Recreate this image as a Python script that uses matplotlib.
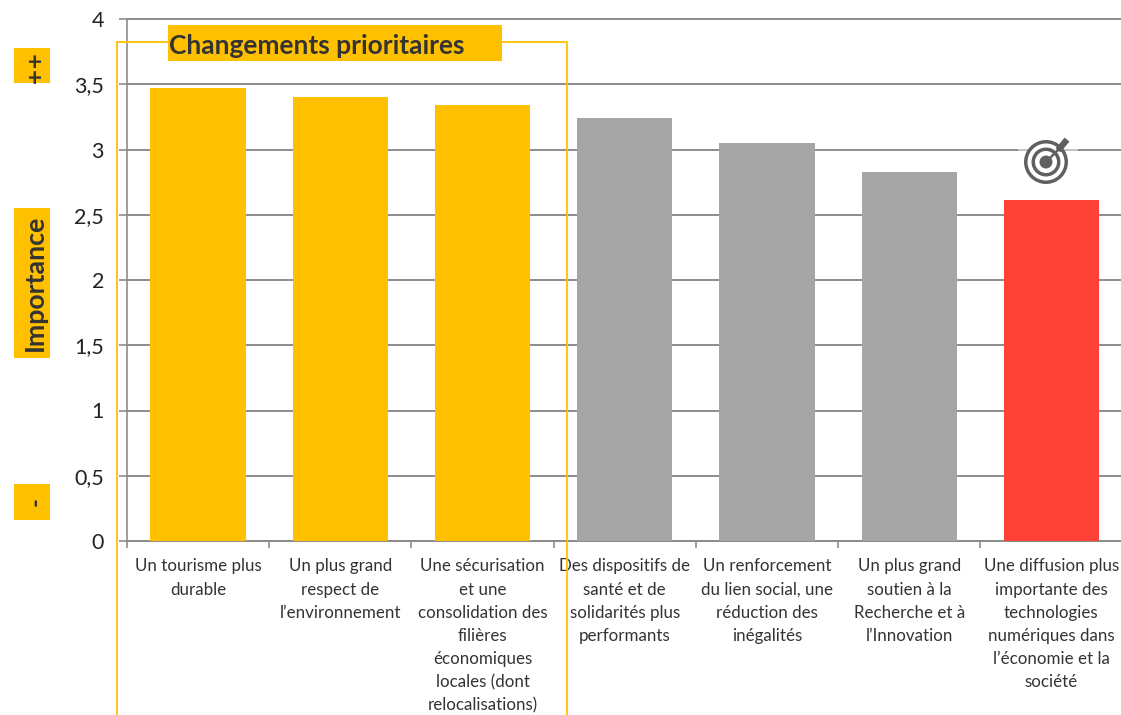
import matplotlib
matplotlib.use("Agg")
import matplotlib.pyplot as plt
from matplotlib.patches import Rectangle

W, H = 1121, 715

# Data
labels = [
    "Un tourisme plus\ndurable",
    "Un plus grand\nrespect de\nl’environnement",
    "Une sécurisation\net une\nconsolidation des\nfilières\néconomiques\nlocales (dont\nrelocalisations)",
    "Des dispositifs de\nsanté et de\nsolidarités plus\nperformants",
    "Un renforcement\ndu lien social, une\nréduction des\ninégalités",
    "Un plus grand\nsoutien à la\nRecherche et à\nl’Innovation",
    "Une diffusion plus\nimportante des\ntechnologies\nnumériques dans\nl’économie et la\nsociété",
]
values = [3.47, 3.40, 3.34, 3.24, 3.05, 2.83, 2.61]
colors = ["#FFC000", "#FFC000", "#FFC000", "#A6A6A6", "#A6A6A6", "#A6A6A6", "#FF4238"]
yticks = [0, 0.5, 1, 1.5, 2, 2.5, 3, 3.5, 4]
yticklabels = ["0", "0,5", "1", "1,5", "2", "2,5", "3", "3,5", "4"]

plt.rcParams["font.family"] = ["Lato", "DejaVu Sans"]

fig = plt.figure(figsize=(W / 100, H / 100), dpi=100)
ax = fig.add_axes([127 / W, 1 - 541 / H, 995.5 / W, (541 - 19) / H])

ax.bar(range(7), values, width=0.67, color=colors, zorder=3)
ax.set_xlim(-0.5, 6.5)
ax.set_ylim(0, 4)
ax.set_yticks(yticks)
ax.set_yticklabels(yticklabels, fontsize=15.5, color="#222222")
ax.set_xticks([i + 0.5 for i in range(-1, 7)])
ax.set_xticklabels([])
ax.tick_params(axis="x", length=5, color="#8C8C8C", width=1.2, direction="out")
ax.tick_params(axis="y", length=6, color="#8C8C8C", width=1.2, pad=10.5)
ax.grid(axis="y", color="#8C8C8C", lw=1.4, zorder=0, clip_on=False)
for s in ["top", "right"]:
    ax.spines[s].set_visible(False)
for s in ["left", "bottom"]:
    ax.spines[s].set_color("#8C8C8C")
    ax.spines[s].set_linewidth(1.2)

for i, lab in enumerate(labels):
    ax.annotate(lab, (i, 0), xytext=(0, -12.5), textcoords="offset points",
                ha="center", va="top", fontsize=12.2, color="#333333",
                linespacing=1.55, annotation_clip=False)


def px_rect(x0, y0, x1, y1, **kw):
    fig.add_artist(Rectangle((x0 / W, 1 - y1 / H), (x1 - x0) / W, (y1 - y0) / H,
                             transform=fig.transFigure, **kw))


# box round the priority changes
fig.add_artist(plt.Line2D([117 / W, 117 / W, 567 / W, 567 / W],
                          [0, 1 - 42 / H, 1 - 42 / H, 0],
                          color="#FFC000", lw=1.3, zorder=5))
px_rect(168, 25, 502, 61, color="#FFC000", lw=0, zorder=6)
fig.text(169 / W, 1 - 46 / H, "Changements prioritaires", fontsize=19,
         fontweight="bold", color="#333333", va="center", zorder=7)

# left side tags
px_rect(14, 48, 50, 83, color="#FFC000", lw=0)
fig.text(34 / W, 1 - 66 / H, "++", fontsize=14.5, fontweight="bold", rotation=90,
         ha="center", va="center", color="#333333", family="DejaVu Sans")
px_rect(14, 208, 50, 358, color="#FFC000", lw=0)
fig.text(35 / W, 1 - 283 / H, "Importance", fontsize=19.3, fontweight="bold",
         rotation=90, ha="center", va="center", color="#333333")
px_rect(14, 484, 50, 520, color="#FFC000", lw=0)
fig.text(35 / W, 1 - 502 / H, "-", fontsize=17, fontweight="bold", rotation=90,
         ha="center", va="center", color="#333333")

# target icon, drawn in pixels, on a paler stretch of the gridline
cx, cy = 1046, 162
fig.add_artist(plt.Line2D([1019, 1077], [H - 150, H - 150], transform=None,
                          color="#C4C4C4", lw=1.4, zorder=5))
for r, fc in [(22, "#606060"), (18.5, "white"), (14.5, "#606060"), (11, "white"), (6.5, "#606060")]:
    fig.add_artist(plt.Circle((cx, H - cy), r, transform=None, fc=fc, ec="none", zorder=6))
fig.add_artist(plt.Line2D([cx, cx + 17], [H - cy, H - cy + 17], transform=None,
                          color="#606060", lw=1.8, zorder=7))
fig.add_artist(plt.Line2D([cx + 14, cx + 19], [H - cy + 14, H - cy + 20], transform=None,
                          color="#606060", lw=4.5, zorder=7))

fig.savefig("out.png", dpi=100)
